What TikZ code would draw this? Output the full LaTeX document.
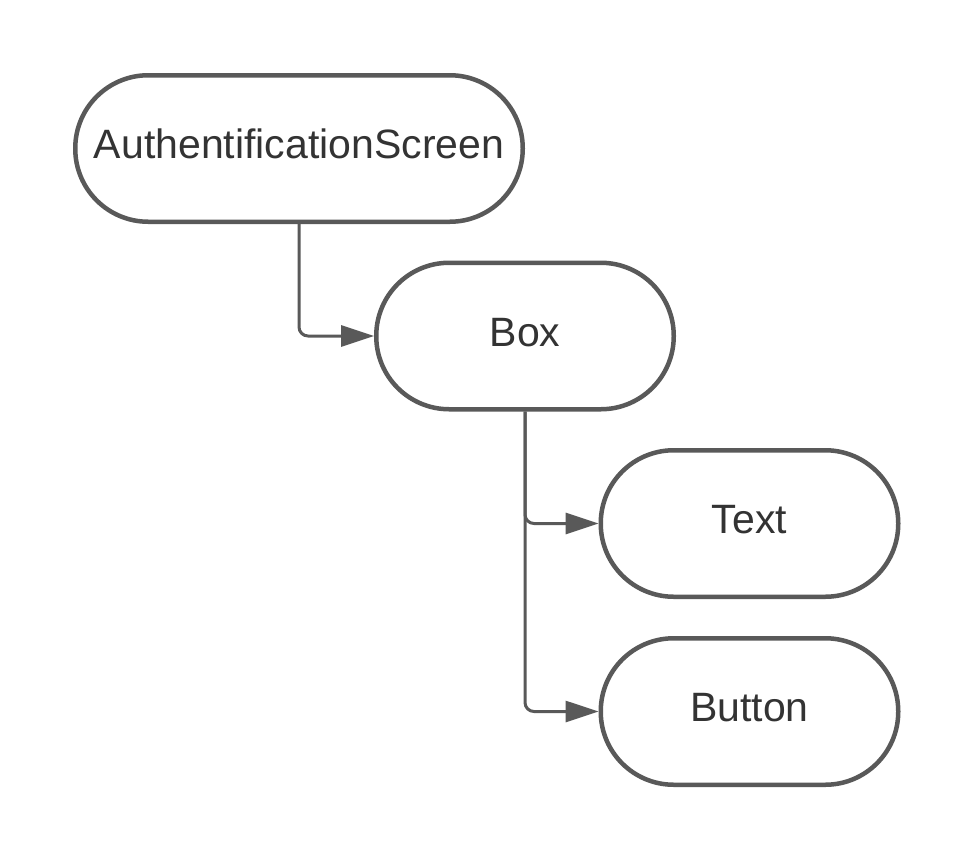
\documentclass[tikz,border=0pt]{standalone}
\usepackage{fontspec}
\setmainfont{Liberation Sans}
\usetikzlibrary{arrows.meta}
\definecolor{ln}{HTML}{595959}
\definecolor{tx}{HTML}{333333}
\begin{document}
\begin{tikzpicture}[x=1pt,y=-1pt,
  pill/.style={draw=ln, line width=4.5pt, rectangle, rounded corners=73pt,
    minimum height=146.5pt, inner sep=0pt, text=tx,
    text height=20pt, text depth=0pt,
    font=\fontsize{41}{48}\selectfont},
  conn/.style={draw=ln, line width=3pt, rounded corners=9pt,
    -{Triangle[length=33pt,width=21pt]}}]
\useasboundingbox[fill=white] (0,0) rectangle (975,863);
\node[pill, minimum width=447.5pt] (auth) at (299,148.5) {AuthentificationScreen};
\node[pill, minimum width=297.5pt] (box) at (525,336) {Box};
\node[pill, minimum width=297.5pt] (text) at (749.5,523.5) {Text};
\node[pill, minimum width=297.5pt] (button) at (749.5,711.5) {Button};
\draw[conn] (auth.south) |- (box.west);
\draw[conn] (box.south) |- (text.west);
\draw[conn] (box.south) |- (button.west);
\end{tikzpicture}
\end{document}
